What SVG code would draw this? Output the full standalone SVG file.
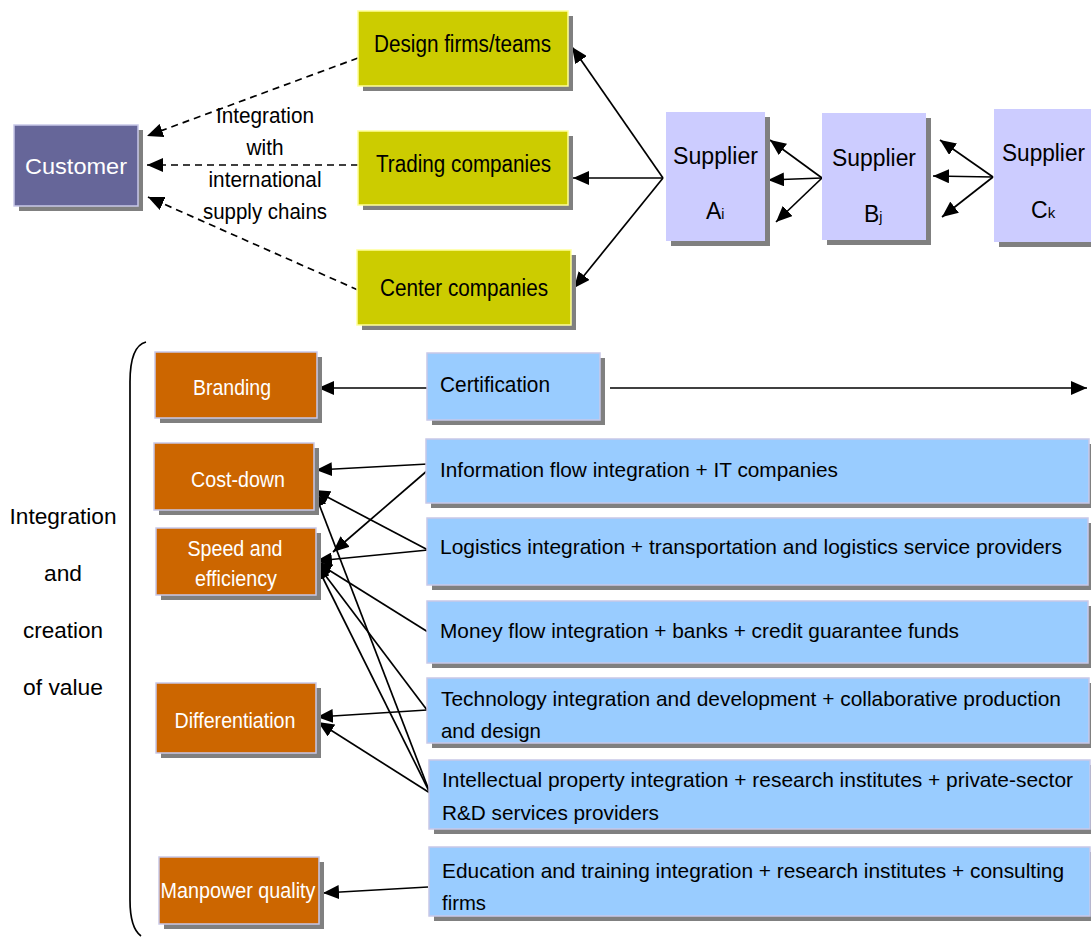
<svg xmlns="http://www.w3.org/2000/svg" width="1091" height="937" viewBox="0 0 1091 937">
<defs>
<marker id="ah" markerUnits="userSpaceOnUse" markerWidth="17" markerHeight="14" refX="16" refY="7" orient="auto">
<path d="M0,0 L16,7 L0,14 z" fill="#000"/>
</marker>
<style>
text{font-family:"Liberation Sans",Arial,sans-serif;}
.sh{fill:#808080;}
.cust{fill:#666699;stroke:#C8C8E8;stroke-width:1.5;}
.yel{fill:#CCCC00;stroke:#FFFF99;stroke-width:1.5;}
.sup{fill:#CCCCFF;}
.org{fill:#CC6600;stroke:#C8C8E8;stroke-width:1.5;}
.blu{fill:#99CCFF;stroke:#C8C8E8;stroke-width:1.5;}
.tb{fill:#000;font-size:23px;}
.tw{fill:#fff;font-size:22px;}
.tbb{fill:#000;font-size:22px;}
.tbl{fill:#000;font-size:21px;}
.ln{stroke:#000;stroke-width:1.7;fill:none;marker-end:url(#ah);}
.dl{stroke:#000;stroke-width:1.7;fill:none;stroke-dasharray:7,5;marker-end:url(#ah);}
</style>
</defs>
<rect width="1091" height="937" fill="#fff"/>

<g id="connectors">
<line class="dl" x1="358" y1="58" x2="147" y2="136"/>
<line class="dl" x1="358" y1="165" x2="147" y2="165"/>
<line class="dl" x1="358" y1="290" x2="148" y2="197"/>
<line class="ln" x1="663" y1="178" x2="572" y2="47"/>
<line class="ln" x1="663" y1="178" x2="573" y2="178"/>
<line class="ln" x1="663" y1="178" x2="574" y2="288"/>
<line class="ln" x1="822" y1="178" x2="770" y2="140"/>
<line class="ln" x1="822" y1="178" x2="768" y2="180"/>
<line class="ln" x1="822" y1="178" x2="776" y2="222"/>
<line class="ln" x1="993" y1="177" x2="940" y2="140"/>
<line class="ln" x1="993" y1="177" x2="933" y2="176"/>
<line class="ln" x1="993" y1="177" x2="942" y2="217"/>
<line class="ln" x1="427" y1="388" x2="318" y2="388"/>
<line class="ln" x1="610" y1="388" x2="1087" y2="388"/>
<line class="ln" x1="428" y1="464" x2="316" y2="470"/>
<line class="ln" x1="428" y1="470" x2="333" y2="552"/>
<line class="ln" x1="428" y1="550" x2="314" y2="490"/>
<line class="ln" x1="428" y1="550" x2="316" y2="561"/>
<line class="ln" x1="428" y1="632" x2="316" y2="562"/>
<line class="ln" x1="427" y1="710" x2="316" y2="563"/>
<line class="ln" x1="427" y1="710" x2="317" y2="717"/>
<line class="ln" x1="430" y1="793" x2="318" y2="722"/>
<line class="ln" x1="430" y1="793" x2="316" y2="564"/>
<line class="ln" x1="430" y1="793" x2="314" y2="491"/>
<line class="ln" x1="428" y1="887" x2="323" y2="893"/>
</g>

<g id="customer">
<rect class="sh" x="19" y="130" width="124" height="81"/>
<rect class="cust" x="14" y="125" width="124" height="81"/>
<text class="tw" x="76" y="174" text-anchor="middle" font-size="23" textLength="102" lengthAdjust="spacingAndGlyphs">Customer</text>
</g>

<g id="integration-label">
<text class="tbb" x="265" y="123" text-anchor="middle" textLength="98" lengthAdjust="spacingAndGlyphs">Integration</text>
<text class="tbb" x="265" y="155" text-anchor="middle" textLength="37" lengthAdjust="spacingAndGlyphs">with</text>
<text class="tbb" x="265" y="187" text-anchor="middle" textLength="113" lengthAdjust="spacingAndGlyphs">international</text>
<text class="tbb" x="265" y="219" text-anchor="middle" textLength="124" lengthAdjust="spacingAndGlyphs">supply chains</text>
</g>

<g id="design">
<rect class="sh" x="363" y="16" width="210" height="75"/>
<rect class="yel" x="358" y="11" width="210" height="75"/>
<text class="tb" x="374" y="52" textLength="177" lengthAdjust="spacingAndGlyphs">Design firms/teams</text>
</g>
<g id="trading">
<rect class="sh" x="363" y="136" width="210" height="74"/>
<rect class="yel" x="358" y="131" width="210" height="74"/>
<text class="tb" x="376" y="172" textLength="175" lengthAdjust="spacingAndGlyphs">Trading companies</text>
</g>
<g id="center">
<rect class="sh" x="362" y="255" width="214" height="75"/>
<rect class="yel" x="357" y="250" width="214" height="75"/>
<text class="tb" x="380" y="296" textLength="168" lengthAdjust="spacingAndGlyphs">Center companies</text>
</g>

<g id="supplierA">
<rect class="sh" x="671" y="117" width="99" height="129"/>
<rect class="sup" x="666" y="112" width="99" height="129"/>
<text class="tb" x="673" y="164" textLength="85" lengthAdjust="spacingAndGlyphs">Supplier</text>
<text class="tb" x="706" y="219">A<tspan font-size="14">i</tspan></text>
</g>
<g id="supplierB">
<rect class="sh" x="827" y="118" width="104" height="127"/>
<rect class="sup" x="822" y="113" width="104" height="127"/>
<text class="tb" x="832" y="166" textLength="84" lengthAdjust="spacingAndGlyphs">Supplier</text>
<text class="tb" x="864" y="222">B<tspan font-size="14">j</tspan></text>
</g>
<g id="supplierC">
<rect class="sh" x="999" y="114" width="100" height="133"/>
<rect class="sup" x="994" y="109" width="100" height="133"/>
<text class="tb" x="1002" y="161" textLength="83" lengthAdjust="spacingAndGlyphs">Supplier</text>
<text class="tb" x="1031" y="218">C<tspan font-size="15">k</tspan></text>
</g>

<g id="bracket">
<path d="M146,342 Q130,346 130,382 L130,900 Q130,928 141,936" fill="none" stroke="#000" stroke-width="1.7"/>
<text class="tbb" x="63" y="524" text-anchor="middle" font-size="23" textLength="107" lengthAdjust="spacingAndGlyphs">Integration</text>
<text class="tbb" x="63" y="581" text-anchor="middle" font-size="23" textLength="38" lengthAdjust="spacingAndGlyphs">and</text>
<text class="tbb" x="63" y="638" text-anchor="middle" font-size="23" textLength="80" lengthAdjust="spacingAndGlyphs">creation</text>
<text class="tbb" x="63" y="695" text-anchor="middle" font-size="23" textLength="80" lengthAdjust="spacingAndGlyphs">of value</text>
</g>

<g id="branding">
<rect class="sh" x="160" y="357" width="162" height="66"/>
<rect class="org" x="155" y="352" width="162" height="66"/>
<text class="tw" x="232" y="395" text-anchor="middle" textLength="78" lengthAdjust="spacingAndGlyphs">Branding</text>
</g>
<g id="costdown">
<rect class="sh" x="159" y="448" width="160" height="67"/>
<rect class="org" x="154" y="443" width="160" height="67"/>
<text class="tw" x="238" y="487" text-anchor="middle" textLength="94" lengthAdjust="spacingAndGlyphs">Cost-down</text>
</g>
<g id="speed">
<rect class="sh" x="161" y="533" width="160" height="67"/>
<rect class="org" x="156" y="528" width="160" height="67"/>
<text class="tw" x="235" y="556" text-anchor="middle" textLength="95" lengthAdjust="spacingAndGlyphs">Speed and</text>
<text class="tw" x="236" y="586" text-anchor="middle" textLength="82" lengthAdjust="spacingAndGlyphs">efficiency</text>
</g>
<g id="differentiation">
<rect class="sh" x="161" y="688" width="160" height="70"/>
<rect class="org" x="156" y="683" width="160" height="70"/>
<text class="tw" x="235" y="728" text-anchor="middle" textLength="121" lengthAdjust="spacingAndGlyphs">Differentiation</text>
</g>
<g id="manpower">
<rect class="sh" x="164" y="862" width="160" height="67"/>
<rect class="org" x="159" y="857" width="160" height="67"/>
<text class="tw" x="238" y="898" text-anchor="middle" font-size="21" textLength="155" lengthAdjust="spacingAndGlyphs">Manpower quality</text>
</g>

<g id="certification">
<rect class="sh" x="432" y="358" width="173" height="67"/>
<rect class="blu" x="427" y="353" width="173" height="67"/>
<text class="tbb" x="440" y="392" textLength="110" lengthAdjust="spacingAndGlyphs">Certification</text>
</g>
<g id="info">
<rect class="sh" x="431" y="444" width="663" height="64"/>
<rect class="blu" x="426" y="439" width="663" height="64"/>
<text class="tbl" x="440" y="477" textLength="398" lengthAdjust="spacingAndGlyphs">Information flow integration + IT companies</text>
</g>
<g id="logistics">
<rect class="sh" x="432" y="523" width="661" height="67"/>
<rect class="blu" x="427" y="518" width="661" height="67"/>
<text class="tbl" x="440" y="554" textLength="622" lengthAdjust="spacingAndGlyphs">Logistics integration + transportation and logistics service providers</text>
</g>
<g id="money">
<rect class="sh" x="432" y="606" width="661" height="62"/>
<rect class="blu" x="427" y="601" width="661" height="62"/>
<text class="tbl" x="440" y="638" textLength="519" lengthAdjust="spacingAndGlyphs">Money flow integration + banks + credit guarantee funds</text>
</g>
<g id="technology">
<rect class="sh" x="432" y="683" width="662" height="65"/>
<rect class="blu" x="427" y="678" width="662" height="65"/>
<text class="tbl" x="441" y="706" textLength="620" lengthAdjust="spacingAndGlyphs">Technology integration and development + collaborative production</text>
<text class="tbl" x="441" y="738" textLength="100" lengthAdjust="spacingAndGlyphs">and design</text>
</g>
<g id="ip">
<rect class="sh" x="434" y="765" width="661" height="69"/>
<rect class="blu" x="429" y="760" width="661" height="69"/>
<text class="tbl" x="442" y="787" textLength="631" lengthAdjust="spacingAndGlyphs">Intellectual property integration + research institutes + private-sector</text>
<text class="tbl" x="442" y="820" textLength="217" lengthAdjust="spacingAndGlyphs">R&amp;D services providers</text>
</g>
<g id="education">
<rect class="sh" x="434" y="852" width="661" height="69"/>
<rect class="blu" x="429" y="847" width="661" height="69"/>
<text class="tbl" x="442" y="878" textLength="622" lengthAdjust="spacingAndGlyphs">Education and training integration + research institutes + consulting</text>
<text class="tbl" x="442" y="910" textLength="44" lengthAdjust="spacingAndGlyphs">firms</text>
</g>
</svg>
